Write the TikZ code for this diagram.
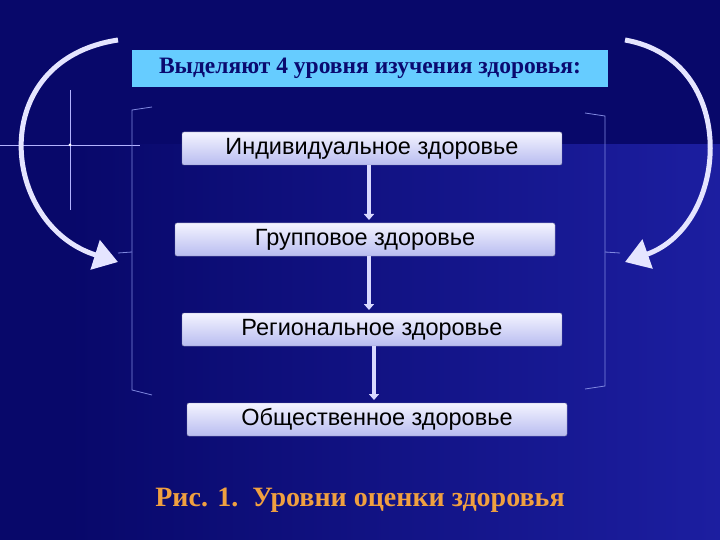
\documentclass[tikz,border=0pt]{standalone}
\usepackage{fontspec}
\setmainfont{Liberation Serif}
\newfontfamily\boxfont{Liberation Sans}
\usetikzlibrary{arrows.meta,shadings}
\definecolor{bgdark}{HTML}{08086A}
\definecolor{bglight}{HTML}{1C1EA0}
\definecolor{titlefill}{HTML}{66CCFF}
\definecolor{titletext}{HTML}{0A0A70}
\definecolor{boxtop}{HTML}{F4F4FF}
\definecolor{boxbot}{HTML}{B8BCF0}
\definecolor{captioncol}{HTML}{F0A040}
\definecolor{bracketcol}{HTML}{8088E0}
\tikzset{
  level/.style={minimum width=380pt, minimum height=33pt, inner sep=0pt,
    top color=boxtop, bottom color=boxbot, draw=boxbot!70!black, rounded corners=2pt,
    font=\boxfont\fontsize{23.5}{25}\selectfont, text=black},
  downarrow/.style={draw=white!85!blue, line width=3.5pt, -{Triangle[length=6pt,width=10pt]}},
  bracket/.style={draw=bracketcol, line width=0.8pt},
  bigarrow/.style={draw=white!90!blue, line width=5pt, -{Triangle[length=24pt,width=30pt]}}
}
\begin{document}
\begin{tikzpicture}[x=1pt,y=-1pt]
\useasboundingbox (0,0) rectangle (720,540);
\fill[bgdark] (0,0) rectangle (720,540);
\shade[left color=bgdark, right color=bglight] (70,145) rectangle (720,540);
% sparkle
\draw[white!70!blue, line width=0.6pt] (0,145) -- (140,145);
\draw[white!70!blue, line width=0.6pt] (70,90) -- (70,210);
\fill[white] (70,145) circle (1.5pt);
% title
\node[fill=titlefill, minimum width=476pt, minimum height=37pt, inner sep=0pt,
  text=titletext, font=\bfseries\fontsize{23.5}{25}\selectfont] (title) at (370,68.5)
  {Выделяют 4 уровня изучения здоровья:};
% levels
\node[level] (l1) at (372,148.5) {Индивидуальное здоровье};
\node[level] (l2) at (365,239.5) {Групповое здоровье};
\node[level] (l3) at (372,329.5) {Региональное здоровье};
\node[level] (l4) at (377,419.5) {Общественное здоровье};
\draw[downarrow] (l1.south -| 369,0) -- (369,220);
\draw[downarrow] (l2.south -| 369,0) -- (369,310);
\draw[downarrow] (l3.south -| 374,0) -- (374,400);
% brackets
\draw[bracket] (152,107) -- (132,110) -- (132,390) -- (152,395);
\draw[bracket] (118,253) -- (132,252);
\draw[bracket] (585,113) -- (605,116) -- (605,386) -- (585,389);
\draw[bracket] (605,252) -- (620,253);
% curved arrows
\coordinate (la) at (118,40);
\coordinate (lb) at (118,262);
\coordinate (ra) at (625,40);
\coordinate (rb) at (625,262);
\draw[bigarrow] (la) .. controls (-15,60) and (0,225) .. (lb);
\draw[bigarrow] (ra) .. controls (740,60) and (730,225) .. (rb);
% caption
\node[text=captioncol, font=\bfseries\fontsize{28}{30}\selectfont] (cap) at (360,500)
  {Рис. 1.\ \ Уровни оценки здоровья};
\end{tikzpicture}
\end{document}
